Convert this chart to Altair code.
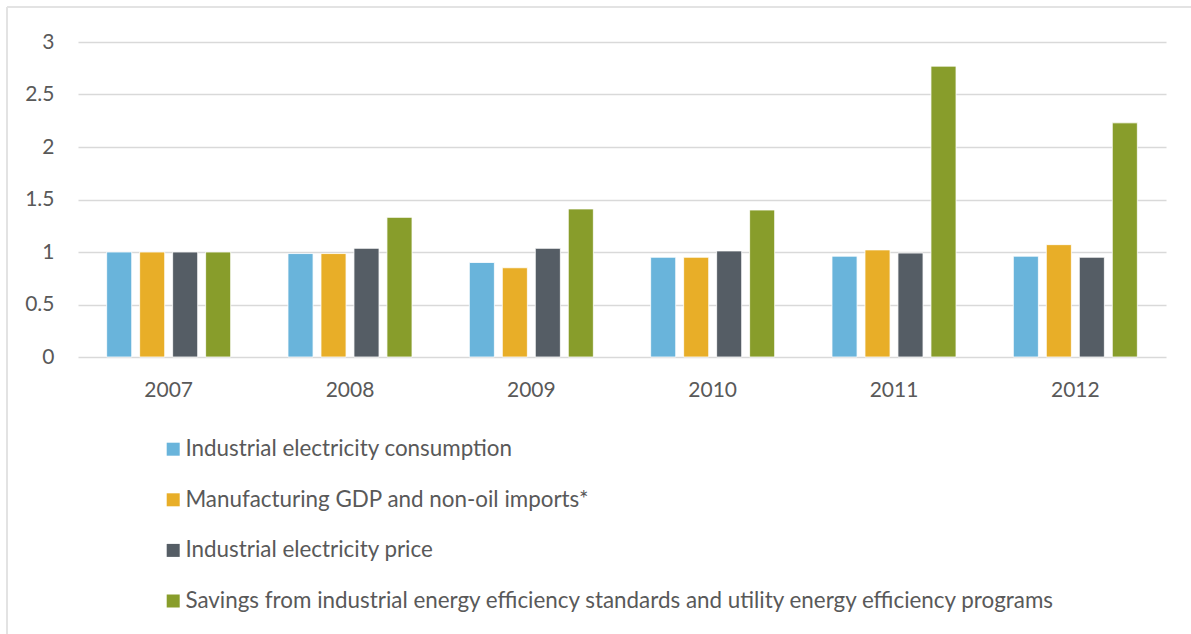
import altair as alt
import pandas as pd

years = ["2007", "2008", "2009", "2010", "2011", "2012"]
series = [
    "Industrial electricity consumption",
    "Manufacturing GDP and non-oil imports*",
    "Industrial electricity price",
    "Savings from industrial energy efficiency standards and utility energy efficiency programs",
]
consumption = [1.00, 0.985, 0.90, 0.95, 0.96, 0.96]
gdp_imports = [1.00, 0.985, 0.85, 0.95, 1.02, 1.07]
price = [1.00, 1.035, 1.035, 1.01, 0.99, 0.95]
savings = [1.00, 1.33, 1.41, 1.40, 2.77, 2.23]
colors = ["#69B4DB", "#E8AE28", "#555D65", "#889D2B"]
y_ticks = [0, 0.5, 1, 1.5, 2, 2.5, 3]

rows = []
for name, vals in zip(series, [consumption, gdp_imports, price, savings]):
    for yr, v in zip(years, vals):
        rows.append({"year": yr, "series": name, "value": v})
df = pd.DataFrame(rows)

FONT = "Lato"
TXT = "#595959"

bars = alt.Chart(df).mark_bar(stroke="white", strokeWidth=0.8).encode(
    x=alt.X("year:N", sort=years, title=None,
            scale=alt.Scale(paddingInner=0.316, paddingOuter=0.158),
            axis=alt.Axis(labelAngle=0, labelPadding=22, ticks=False, domain=False,
                          grid=False, labelFontSize=21, labelColor=TXT, labelFont=FONT)),
    xOffset=alt.XOffset("series:N", sort=series,
                        scale=alt.Scale(paddingInner=0.24, paddingOuter=0)),
    y=alt.Y("value:Q", title=None,
            scale=alt.Scale(domain=[0, 3], nice=False),
            axis=alt.Axis(values=y_ticks, format="~g", ticks=False, domain=False,
                          labelPadding=24, labelFontSize=21, labelColor=TXT, labelFont=FONT,
                          gridColor="#D9D9D9", gridWidth=1.5)),
    color=alt.Color("series:N", sort=series,
                    scale=alt.Scale(domain=series, range=colors),
                    legend=alt.Legend(orient="none", legendX=84, legendY=396,
                                      direction="vertical", title=None,
                                      symbolType="square", symbolSize=169,
                                      symbolStrokeWidth=0, labelFontSize=22.4,
                                      labelFont=FONT, labelColor=TXT, labelLimit=0,
                                      labelOffset=1, rowPadding=27.6)),
)

frame = pd.DataFrame({"k": [0]})
left_border = alt.Chart(frame).mark_rule(color="#E3E3E3", strokeWidth=2).encode(
    x=alt.value(-71), y=alt.value(-35), y2=alt.value(600))
top_border = alt.Chart(frame).mark_rule(color="#E3E3E3", strokeWidth=2).encode(
    x=alt.value(-71), x2=alt.value(1120), y=alt.value(-35))

chart = alt.layer(bars, left_border, top_border).properties(
    width=1088, height=315,
    background="white",
    autosize=alt.AutoSizeParams(type="none"),
    padding={"left": 78, "top": 42, "right": 25, "bottom": 277},
).configure_view(stroke=None)

chart.save("out.html", embed_options={"renderer": "svg", "actions": False})
